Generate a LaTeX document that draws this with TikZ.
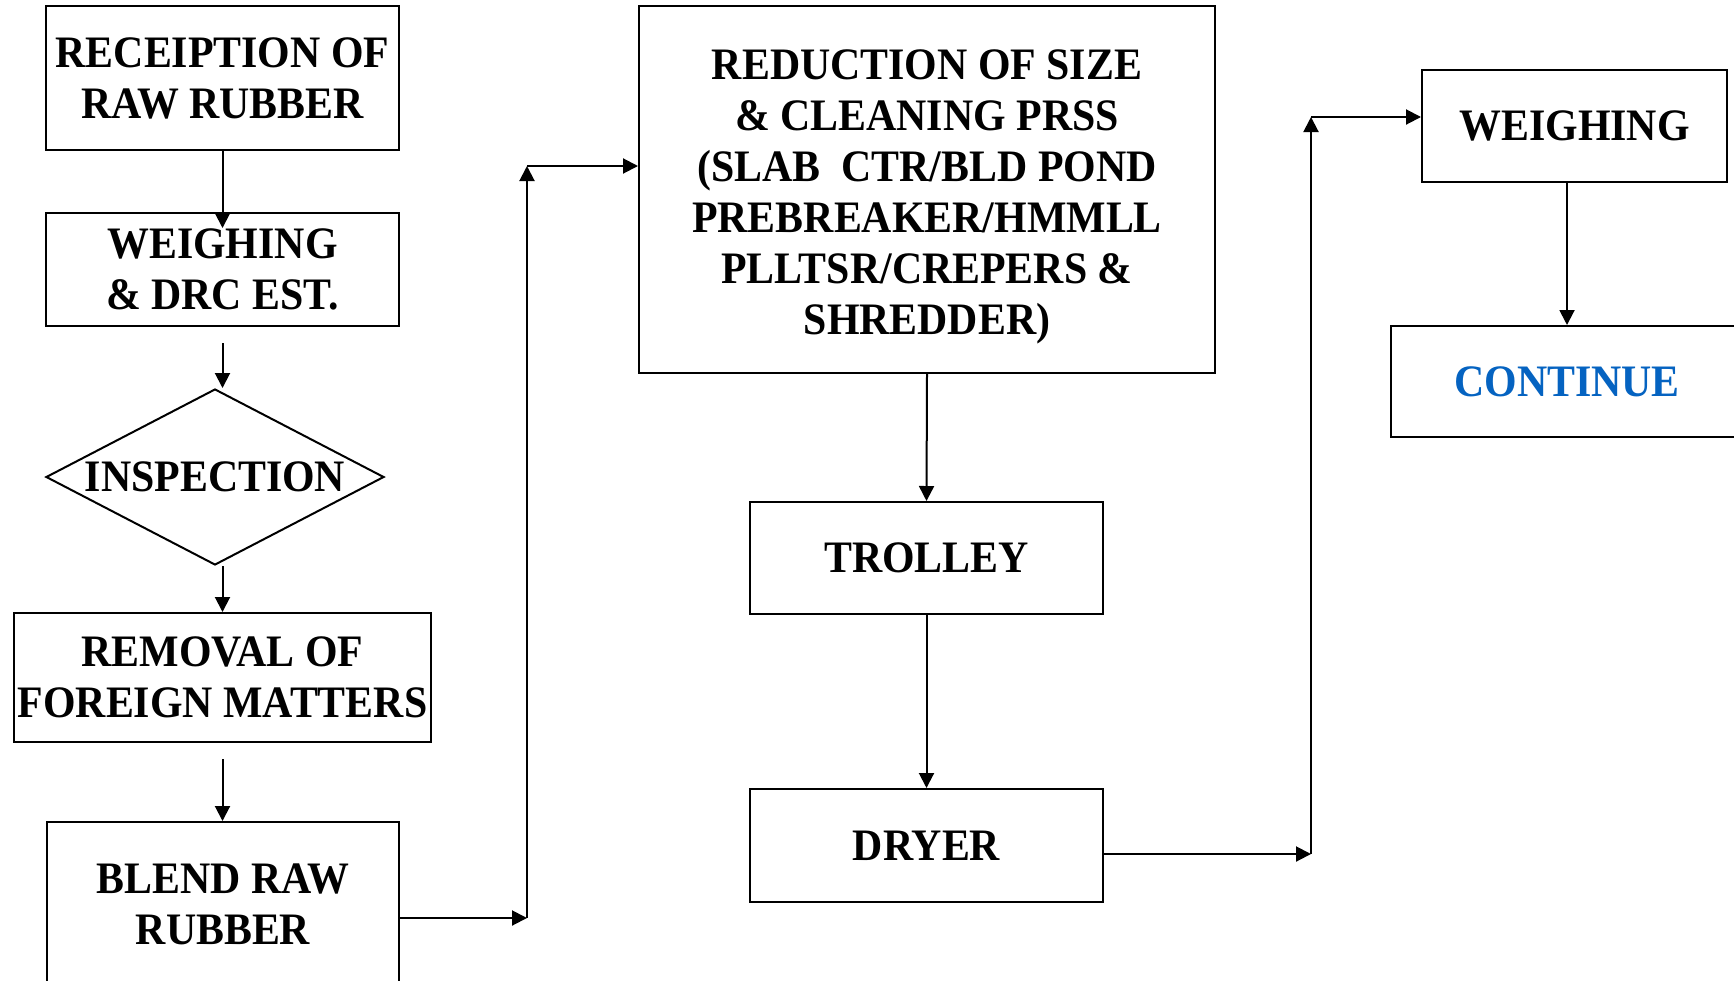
\documentclass[tikz,border=0pt]{standalone}
\usepackage{fontspec}
\setmainfont{Liberation Serif}[FakeStretch=0.93]
\usetikzlibrary{arrows.meta,shapes.geometric}
\definecolor{flowink}{HTML}{000000}
\definecolor{flowblue}{HTML}{0563C1}
\tikzset{
  bx/.style={draw=flowink, line width=1pt, align=center, inner sep=0pt, font=\fontsize{22.5}{25.5}\selectfont\bfseries},
  dec/.style={bx, diamond, aspect=1.92},
  arr/.style={-{Triangle[length=7.5pt, width=7.5pt]}, line width=1pt, color=flowink},
}
\begin{document}
\begin{tikzpicture}[x=0.5pt, y=-0.5pt]
  \useasboundingbox (0,0) rectangle (1734,980);
  \clip (0,0) rectangle (1734,980);
  \fill[white] (0,0) rectangle (1734,980);
  % left column
  \node[bx, minimum width=176.5pt, minimum height=72pt] (recv) at (222.5,78) {RECEIPTION OF\\RAW RUBBER};
  \node[bx, minimum width=176.5pt, minimum height=56.5pt] (weigh) at (222.5,269.5) {WEIGHING\\\& DRC EST.};
  \node[dec, minimum width=169pt, minimum height=88pt] (insp) at (215,477) {INSPECTION};
  \node[bx, minimum width=208.5pt, minimum height=64.5pt] (remov) at (222.5,677.5) {REMOVAL OF\\FOREIGN MATTERS};
  \node[bx, minimum width=176pt, minimum height=82pt] (blend) at (223,904) {BLEND RAW\\RUBBER};
  % middle column
  \node[bx, minimum width=288pt, minimum height=183.5pt] (reduce) at (927,189.5) {\rule{0pt}{22pt}REDUCTION OF SIZE\\\& CLEANING PRSS\\(SLAB\ \ CTR/BLD POND\\PREBREAKER/HMMLL\\PLLTSR/CREPERS \&\\SHREDDER)};
  \node[bx, minimum width=176.5pt, minimum height=56pt] (trolley) at (926.5,558) {TROLLEY};
  \node[bx, minimum width=176.5pt, minimum height=56.5pt] (dryer) at (926.5,845.5) {DRYER};
  % right column
  \node[bx, minimum width=152.5pt, minimum height=56pt] (weightwo) at (1574.5,126) {WEIGHING};
  \node[bx, text=flowblue, minimum width=176pt, minimum height=55.5pt] (cont) at (1567,381.5) {CONTINUE};
  \coordinate (b1) at (527,918);
  \coordinate (b2) at (527,166);
  \coordinate (d1) at (1311,854);
  \coordinate (d2) at (1311,117);
  \draw[arr, shorten >=-8pt] (recv.south) -- (weigh.north);
  \draw[arr, shorten <=8pt] (weigh.south) -- (weigh.south |- insp.north);
  \draw[arr] (weigh.south |- insp.south) -- (remov.north);
  \draw[arr, shorten <=8pt] (remov.south) -- (remov.south |- blend.north);
  \draw[arr] (blend.east |- b1) -- (b1);
  \draw[arr] (b1) -- (b2);
  \draw[arr] (b2) -- (reduce.west |- b2);
  \draw[arr] (reduce.south) -- (trolley.north);
  \draw[arr] (trolley.south) -- (dryer.north);
  \draw[arr] (dryer.east |- d1) -- (d1);
  \draw[arr] (d1) -- (d2);
  \draw[arr] (d2) -- (weightwo.west |- d2);
  \draw[arr] (cont.north |- weightwo.south) -- (cont.north);
\end{tikzpicture}
\end{document}
